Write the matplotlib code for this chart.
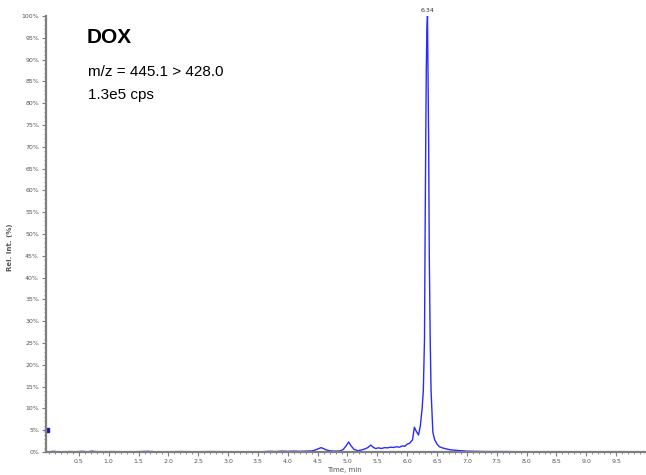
import matplotlib
matplotlib.use("Agg")
import matplotlib.pyplot as plt
from matplotlib.ticker import MultipleLocator, FixedLocator

# Chromatogram of the DOX transition (retention time in min, relative intensity in %)
time_min = [0.00, 0.08, 0.15, 0.25, 0.35, 0.45, 0.55, 0.65, 0.72, 0.78, 0.90, 1.05,
            1.20, 1.40, 1.65, 1.80, 2.00, 2.20, 2.45, 2.70, 3.00, 3.30, 3.55, 3.70,
            3.80, 3.90, 4.00, 4.10, 4.20, 4.30, 4.40, 4.46, 4.51, 4.56, 4.61, 4.66,
            4.72, 4.80, 4.88, 4.93, 4.97, 5.02, 5.06, 5.11, 5.17, 5.23, 5.29, 5.34,
            5.39, 5.43, 5.47, 5.52, 5.57, 5.62, 5.67, 5.72, 5.77, 5.82, 5.87, 5.92,
            5.96, 6.00, 6.04, 6.09, 6.12, 6.15, 6.19, 6.22, 6.25, 6.27, 6.29, 6.30,
            6.31, 6.32, 6.33, 6.34, 6.35, 6.36, 6.37, 6.385, 6.40, 6.43, 6.46, 6.50,
            6.54, 6.60, 6.66, 6.72, 6.80, 6.90, 7.00, 7.15, 7.30, 7.60, 8.00, 8.50,
            9.00, 9.50, 10.00]
rel_int = [0.05, 0.15, 0.05, 0.05, 0.10, 0.05, 0.15, 0.05, 0.20, 0.10, 0.05, 0.10,
           0.05, 0.05, 0.15, 0.05, 0.05, 0.10, 0.05, 0.10, 0.05, 0.05, 0.05, 0.15,
           0.10, 0.20, 0.15, 0.20, 0.15, 0.20, 0.25, 0.45, 0.75, 1.00, 0.70, 0.40,
           0.25, 0.20, 0.25, 0.60, 1.30, 2.30, 1.40, 0.60, 0.30, 0.45, 0.70, 1.00,
           1.60, 1.10, 0.80, 0.95, 0.80, 1.00, 0.95, 1.10, 1.05, 1.20, 1.10, 1.40,
           1.30, 1.80, 2.00, 2.80, 5.70, 4.80, 3.90, 6.00, 10.0, 14.0, 26.0, 50.0,
           70.0, 88.0, 97.0, 100.0, 85.0, 70.0, 45.0, 26.0, 14.0, 4.50, 2.80, 1.80,
           1.20, 0.90, 0.70, 0.50, 0.40, 0.30, 0.20, 0.15, 0.10, 0.10, 0.05, 0.08,
           0.05, 0.08, 0.05]

apex_time = 6.34
apex_label = "6.34"

x_ticks = [0.5, 1.0, 1.5, 2.0, 2.5, 3.0, 3.5, 4.0, 4.5, 5.0,
           5.5, 6.0, 6.5, 7.0, 7.5, 8.0, 8.5, 9.0, 9.5]
y_ticks = list(range(0, 101, 5))

line_col = "#2a2aff"
axis_col = "#7f7f7f"
label_col = "#555555"

fig = plt.figure(figsize=(6.46, 4.75), dpi=100)
ax = fig.add_axes([46 / 646, 23 / 475, 600 / 646, 436 / 475])

ax.plot(time_min, rel_int, color=line_col, lw=1.0)

ax.set_xlim(-0.05, 10.0)
ax.set_ylim(0, 100)

for side in ("top", "right"):
    ax.spines[side].set_visible(False)
for side in ("left", "bottom"):
    ax.spines[side].set_color(axis_col)
    ax.spines[side].set_linewidth(1.6)

ax.xaxis.set_major_locator(FixedLocator(x_ticks))
ax.xaxis.set_minor_locator(MultipleLocator(0.1))
ax.yaxis.set_major_locator(FixedLocator(y_ticks))
ax.yaxis.set_minor_locator(MultipleLocator(1))
ax.set_xticklabels([f"{v:.1f}" for v in x_ticks])
ax.set_yticklabels([f"{v}%" for v in y_ticks])

ax.tick_params(axis="both", which="major", direction="out", length=3, width=0.8,
               color=axis_col, labelsize=4.5, labelcolor=label_col, pad=2)
ax.tick_params(axis="both", which="minor", direction="out", length=1.5, width=0.6,
               color=axis_col)

ax.set_xlabel("Time, min", fontsize=5, color=label_col, labelpad=1)
ax.xaxis.set_label_coords(0.497, -0.035)
ax.set_ylabel("Rel. Int. (%)", fontsize=5, color=label_col, fontweight="bold")
ax.yaxis.set_label_coords(-0.055, 0.47)

# threshold marker at 5 %
ax.plot([-0.04], [5], marker="s", ms=3, color="#1a1aaa", clip_on=False)

# apex label
ax.text(apex_time, 100.6, apex_label, ha="center", va="bottom", fontsize=4.5,
        color="#333333", clip_on=False)

# compound annotations
fig.text(87 / 646, 1 - 43 / 475, "DOX", fontsize=15, fontweight="bold",
         family="Liberation Sans", ha="left", va="baseline")
fig.text(88 / 646, 1 - 76 / 475, "m/z = 445.1 > 428.0", fontsize=11,
         family="Liberation Sans", ha="left", va="baseline")
fig.text(88 / 646, 1 - 99 / 475, "1.3e5 cps", fontsize=11,
         family="Liberation Sans", ha="left", va="baseline")

fig.savefig("out.png", dpi=100)
